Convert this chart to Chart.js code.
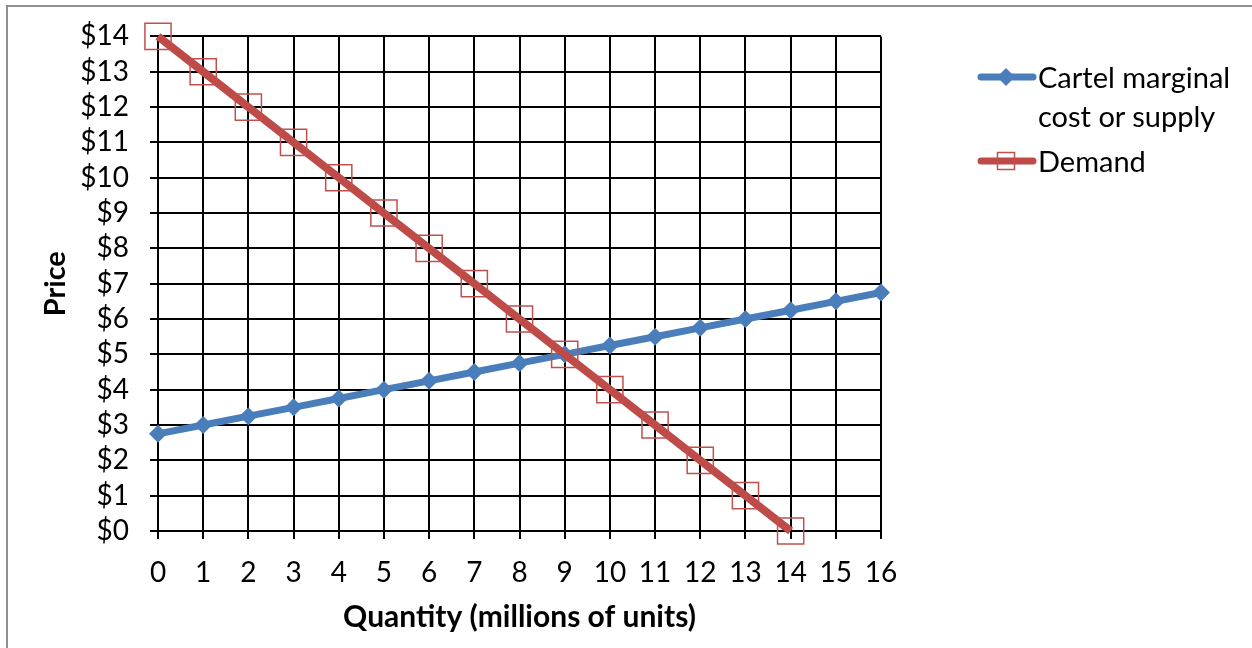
<!DOCTYPE html>
<html><head><meta charset="utf-8">
<script src="https://cdn.jsdelivr.net/npm/chart.js@4/dist/chart.umd.min.js"></script>
<style>
html,body{margin:0;padding:0;background:#fff;overflow:hidden}
#wrap{position:relative;width:1252px;height:648px;overflow:hidden}
#frame{position:absolute;left:6px;top:5px;width:1400px;height:800px;border:2px solid #8e8e8e;box-sizing:border-box}
canvas{position:absolute;left:0;top:0}
.lg{position:absolute;font-family:Lato,sans-serif;font-size:29px;color:#000;line-height:39px;white-space:nowrap}
.mk{position:absolute}
</style></head>
<body><div id="wrap"><div id="frame"></div><canvas id="c" width="1252" height="648"></canvas>
<svg class="mk" style="left:975px;top:62px" width="64" height="30"><line x1="6" y1="15" x2="58" y2="15" stroke="#4A7EBB" stroke-width="7" stroke-linecap="round"/><polygon points="31,6 40,15 31,24 22,15" fill="#4A7EBB"/></svg>
<div class="lg" style="left:1038px;top:57px">Cartel marginal<br>cost or supply</div>
<svg class="mk" style="left:975px;top:146px" width="64" height="30"><line x1="6" y1="15" x2="58" y2="15" stroke="#BE4B48" stroke-width="7" stroke-linecap="round"/><rect x="22.5" y="6.5" width="17" height="17" fill="none" stroke="#C0504D" stroke-width="1.5"/></svg>
<div class="lg" style="left:1038px;top:141px">Demand</div>
</div>
<script>
const quantities = [0,1,2,3,4,5,6,7,8,9,10,11,12,13,14,15,16];
const supplyPrices = [2.75,3,3.25,3.5,3.75,4,4.25,4.5,4.75,5,5.25,5.5,5.75,6,6.25,6.5,6.75];
const demandQuantities = [0,1,2,3,4,5,6,7,8,9,10,11,12,13,14];
const demandPrices = [14,13,12,11,10,9,8,7,6,5,4,3,2,1,0];
const seriesNames = ['Cartel marginal cost or supply','Demand'];
const xTitle = 'Quantity (millions of units)';
const yTitle = 'Price';

const supplyData = quantities.map((q,i)=>({x:q,y:supplyPrices[i]}));
const demandData = demandQuantities.map((q,i)=>({x:q,y:demandPrices[i]}));

const tickFont = {family:'Lato', size:28, lineHeight:1.1};
const titleFont = {family:'Lato', size:30, weight:'bold'};

new Chart(document.getElementById('c'), {
  type:'line',
  data:{datasets:[
    {label:seriesNames[0], data:supplyData, borderColor:'#4A7EBB', backgroundColor:'#4A7EBB', borderWidth:7,
     pointStyle:'rectRot', pointRadius:9, pointBorderWidth:0, pointBackgroundColor:'#4A7EBB', order:2, clip:false, tension:0},
    {label:seriesNames[1], data:demandData, borderColor:'#BE4B48', backgroundColor:'#BE4B48', borderWidth:8,
     pointStyle:'rect', pointRadius:18.5, pointBorderWidth:1.5, pointBorderColor:'#C0504D', pointBackgroundColor:'rgba(0,0,0,0)', order:1, clip:false, tension:0}
  ]},
  options:{
    responsive:false, animation:false, devicePixelRatio:1,
    layout:{padding:{left:0, top:33, right:371, bottom:0}},
    plugins:{legend:{display:false}, tooltip:{enabled:false}},
    scales:{
      x:{type:'linear', min:0, max:16,
        ticks:{stepSize:1, font:tickFont, color:'#000', padding:19, maxRotation:0, autoSkip:false},
        grid:{color:'#000', lineWidth:2, tickLength:8},
        border:{color:'#000', width:2},
        title:{display:true, text:xTitle, font:titleFont, color:'#000', padding:{top:13,bottom:13}},
        afterFit(s){ s.height = 117; }
      },
      y:{min:0, max:14,
        ticks:{stepSize:1, font:tickFont, color:'#000', padding:21, autoSkip:false, callback:v=>'$'+v},
        grid:{color:'#000', lineWidth:2, tickLength:8},
        border:{color:'#000', width:2},
        title:{display:true, text:yTitle, font:{family:'Lato', size:29, weight:'bold'}, color:'#000', padding:{top:38,bottom:38}},
        afterFit(s){ s.width = 158; }
      }
    }
  }
});
</script></body></html>
